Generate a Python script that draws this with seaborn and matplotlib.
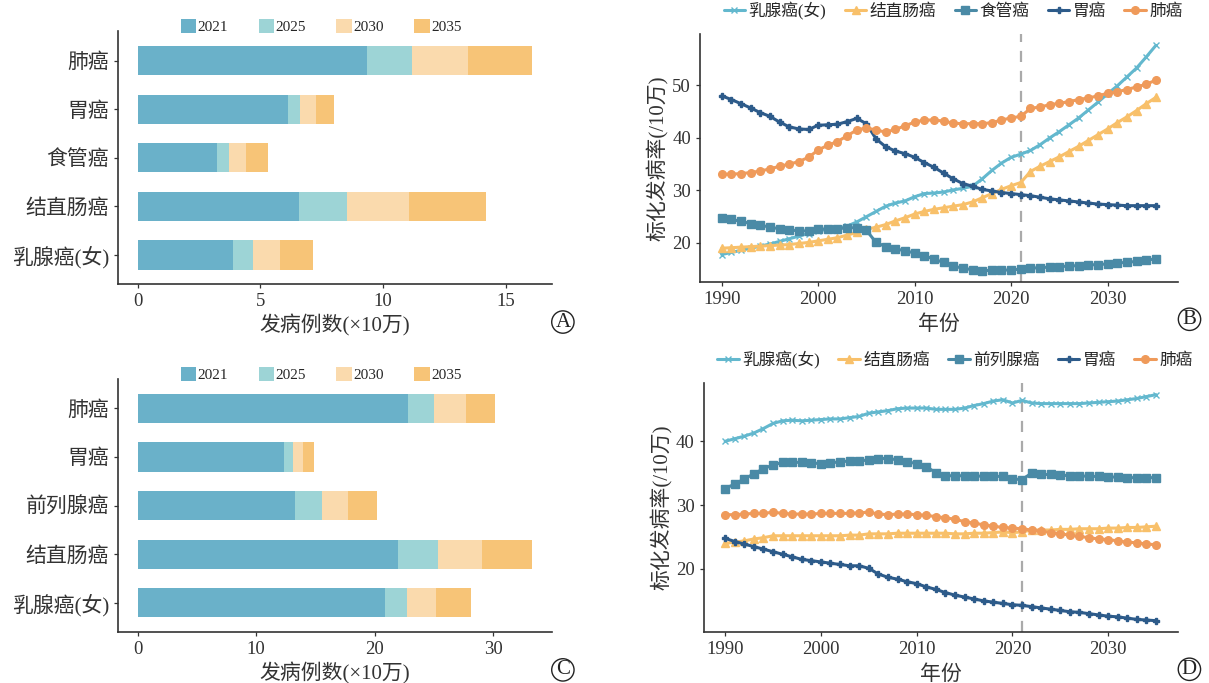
import numpy as np
import pandas as pd
import matplotlib
matplotlib.use("Agg")
import matplotlib.pyplot as plt
from matplotlib.patches import Patch
from matplotlib.lines import Line2D
import seaborn as sns

# -----------------------------------------------------------------
# Data: incidence counts (x10万) by year, panels A and C
# -----------------------------------------------------------------
bar_years = ["2021", "2025", "2030", "2035"]

cats_a = ["肺癌", "胃癌", "食管癌", "结直肠癌", "乳腺癌(女)"]
a_2021 = [9.35, 6.13, 3.22, 6.59, 3.88]
a_2025 = [11.2, 6.62, 3.72, 8.53, 4.71]
a_2030 = [13.47, 7.25, 4.41, 11.05, 5.82]
a_2035 = [16.09, 8.0, 5.31, 14.21, 7.14]

cats_c = ["肺癌", "胃癌", "前列腺癌", "结直肠癌", "乳腺癌(女)"]
c_2021 = [22.84, 12.37, 13.28, 21.96, 20.89]
c_2025 = [25.04, 13.12, 15.52, 25.3, 22.71]
c_2030 = [27.7, 13.99, 17.78, 29.09, 25.2]
c_2035 = [30.19, 14.9, 20.21, 33.3, 28.15]

# -----------------------------------------------------------------
# Data: age-standardised incidence (/10万), 1990-2035
# -----------------------------------------------------------------
years = list(range(1990, 2036))

b_breast = [17.8, 18.2, 18.6, 19.0, 19.4, 19.8, 20.3, 20.8, 21.3, 21.8,
            22.3, 22.6, 22.8, 23.2, 24.0, 25.0, 26.0, 27.0, 27.6, 28.0,
            28.8, 29.4, 29.5, 29.7, 30.1, 30.4, 30.8, 32.2, 33.8, 35.2,
            36.3, 36.9, 37.6, 38.7, 40.0, 41.2, 42.5, 43.8, 45.3, 46.8,
            48.4, 49.9, 51.6, 53.3, 55.4, 57.6]
b_colorectal = [19.0, 19.1, 19.2, 19.3, 19.4, 19.5, 19.6, 19.7, 19.9, 20.1,
                20.4, 20.7, 21.0, 21.5, 22.0, 22.6, 23.0, 23.5, 24.2, 24.8,
                25.5, 26.0, 26.4, 26.7, 27.0, 27.3, 27.8, 28.6, 29.4, 30.2,
                30.9, 31.5, 33.6, 34.6, 35.5, 36.4, 37.4, 38.4, 39.5, 40.6,
                41.7, 42.9, 44.0, 45.2, 46.5, 47.7]
b_esophagus = [24.8, 24.5, 24.1, 23.7, 23.4, 23.0, 22.7, 22.5, 22.3, 22.3,
               22.6, 22.7, 22.7, 22.9, 22.9, 22.4, 20.1, 19.3, 18.9, 18.5,
               18.1, 17.6, 16.9, 16.3, 15.6, 15.2, 14.9, 14.7, 14.8, 14.8,
               14.9, 15.0, 15.2, 15.3, 15.4, 15.5, 15.6, 15.7, 15.8, 15.9,
               16.0, 16.2, 16.3, 16.5, 16.7, 17.0]
b_stomach = [48.0, 47.3, 46.5, 45.7, 44.8, 44.1, 43.0, 42.1, 41.7, 41.6,
             42.4, 42.5, 42.6, 43.1, 43.7, 42.7, 39.8, 38.3, 37.5, 37.0,
             36.3, 35.3, 34.4, 33.3, 32.2, 31.3, 30.8, 30.2, 29.9, 29.6,
             29.4, 29.2, 29.0, 28.7, 28.4, 28.2, 28.0, 27.8, 27.6, 27.4,
             27.3, 27.2, 27.1, 27.1, 27.1, 27.1]
b_lung = [33.1, 33.1, 33.2, 33.4, 33.7, 34.1, 34.6, 35.0, 35.5, 36.3,
          37.7, 38.6, 39.3, 40.4, 41.5, 41.9, 41.5, 41.1, 41.6, 42.3,
          43.0, 43.4, 43.4, 43.2, 42.8, 42.7, 42.7, 42.7, 42.9, 43.4,
          43.8, 44.1, 45.6, 45.9, 46.3, 46.6, 46.9, 47.3, 47.6, 48.0,
          48.5, 48.8, 49.2, 49.7, 50.2, 51.0]

d_breast = [40.0, 40.4, 40.8, 41.3, 42.0, 42.8, 43.2, 43.3, 43.2, 43.3,
            43.4, 43.5, 43.5, 43.7, 43.9, 44.4, 44.6, 44.8, 45.1, 45.2,
            45.2, 45.2, 45.0, 45.0, 45.0, 45.2, 45.6, 45.9, 46.3, 46.5,
            46.0, 46.4, 46.0, 45.9, 45.9, 45.9, 45.9, 45.9, 46.0, 46.1,
            46.2, 46.3, 46.5, 46.7, 47.0, 47.3]
d_colorectal = [24.0, 24.2, 24.4, 24.7, 24.9, 25.2, 25.2, 25.2, 25.2, 25.2,
                25.2, 25.2, 25.2, 25.3, 25.3, 25.5, 25.5, 25.5, 25.6, 25.6,
                25.6, 25.6, 25.6, 25.6, 25.5, 25.5, 25.6, 25.6, 25.7, 25.8,
                25.7, 25.8, 26.1, 26.1, 26.1, 26.2, 26.2, 26.3, 26.3, 26.3,
                26.4, 26.4, 26.5, 26.5, 26.6, 26.7]
d_prostate = [32.6, 33.3, 34.1, 34.9, 35.7, 36.3, 36.7, 36.7, 36.7, 36.6,
              36.5, 36.6, 36.8, 36.9, 36.9, 37.1, 37.3, 37.3, 37.1, 36.8,
              36.5, 36.0, 35.1, 34.6, 34.6, 34.6, 34.6, 34.5, 34.5, 34.5,
              34.1, 34.0, 35.0, 34.8, 34.8, 34.7, 34.6, 34.6, 34.5, 34.5,
              34.4, 34.4, 34.3, 34.3, 34.3, 34.3]
d_stomach = [24.8, 24.3, 23.9, 23.5, 23.1, 22.7, 22.3, 21.9, 21.5, 21.3,
             21.1, 20.9, 20.7, 20.5, 20.5, 20.1, 19.2, 18.7, 18.4, 18.0,
             17.7, 17.2, 16.8, 16.3, 15.9, 15.6, 15.3, 15.0, 14.8, 14.6,
             14.4, 14.3, 14.1, 13.9, 13.7, 13.5, 13.3, 13.2, 13.0, 12.8,
             12.6, 12.5, 12.3, 12.1, 12.0, 11.9]
d_lung = [28.5, 28.5, 28.6, 28.7, 28.7, 28.9, 28.7, 28.6, 28.6, 28.6,
          28.7, 28.7, 28.7, 28.7, 28.8, 28.9, 28.6, 28.5, 28.6, 28.6,
          28.5, 28.4, 28.2, 28.0, 27.8, 27.4, 27.2, 26.9, 26.7, 26.5,
          26.4, 26.3, 26.1, 25.9, 25.7, 25.5, 25.3, 25.1, 24.9, 24.7,
          24.6, 24.4, 24.2, 24.1, 23.9, 23.8]

names_b = ["乳腺癌(女)", "结直肠癌", "食管癌", "胃癌", "肺癌"]
names_d = ["乳腺癌(女)", "结直肠癌", "前列腺癌", "胃癌", "肺癌"]

# -----------------------------------------------------------------
# Style
# -----------------------------------------------------------------
sns.set_theme(style="white")
plt.rcParams["font.family"] = ["Liberation Serif", "Noto Sans CJK SC", "DejaVu Sans"]

bar_colors = ["#6AB1C9", "#9DD4D6", "#FADAAD", "#F7C477"]
line_colors = ["#63B8CE", "#F8C06A", "#4A8AA6", "#2D5B8A", "#EF9A5A"]
line_markers = ["x", "^", "s", "P", "o"]
marker_sizes = [5, 6, 6, 4.5, 5.5]
axis_color = "#333333"

fig = plt.figure(figsize=(12.09, 6.83), dpi=100)
ax_a = fig.add_axes([0.0976, 0.584, 0.359, 0.370])
ax_c = fig.add_axes([0.0976, 0.0747, 0.359, 0.370])
ax_b = fig.add_axes([0.579, 0.587, 0.395, 0.363])
ax_d = fig.add_axes([0.582, 0.0747, 0.392, 0.364])


def style_axes(ax):
    sns.despine(ax=ax)
    for side in ["left", "bottom"]:
        ax.spines[side].set_color(axis_color)
        ax.spines[side].set_linewidth(1.2)
    ax.tick_params(axis="both", which="both", length=3, width=0.9,
                   color=axis_color, colors="#333333", direction="out",
                   bottom=True, left=True)


def panel_letter(ax, x, letter):
    # circled panel letter: letter as text, circle from the text bbox
    ax.text(x, -0.15, letter, transform=ax.transAxes, fontsize=15,
            ha="center", va="center", color="#222222",
            bbox=dict(boxstyle="circle,pad=0.08", fc="none",
                      ec="#222222", lw=1.0))


def bar_panel(ax, cats, vals_by_year, xmax, xticks, letter):
    df = pd.DataFrame({"cat": cats})
    # draw latest year first so earlier years sit on top
    for year, vals, col in reversed(list(zip(bar_years, vals_by_year, bar_colors))):
        sub = df.assign(val=vals)
        sns.barplot(data=sub, x="val", y="cat", order=cats, color=col,
                    orient="h", width=0.6, ax=ax, saturation=1,
                    edgecolor="none", linewidth=0, errorbar=None)
    ax.set_ylim(len(cats) - 0.4, -0.6)
    ax.set_xlim(-0.05 * xmax, 1.05 * xmax)
    ax.set_xticks(xticks)
    ax.set_xticklabels([str(t) for t in xticks], fontsize=13.5)
    ax.set_yticks(range(len(cats)))
    ax.set_yticklabels(cats, fontsize=15)
    ax.set_ylabel("")
    ax.set_xlabel("发病例数(×10万)", fontsize=15, color="#333333", labelpad=3)
    style_axes(ax)
    handles = [Patch(facecolor=c, edgecolor="none", label=y)
               for y, c in zip(bar_years, bar_colors)]
    ax.legend(handles=handles, loc="lower center", bbox_to_anchor=(0.468, 0.965),
              ncol=4, frameon=False, fontsize=11, handlelength=1.0,
              handleheight=1.0, handletextpad=0.1, columnspacing=2.0,
              borderaxespad=0)
    panel_letter(ax, 1.025, letter)


def line_panel(ax, series, names, yticks, letter, legend_x):
    df = pd.DataFrame({"year": years})
    for vals, name, col, mk, ms in zip(series, names, line_colors,
                                        line_markers, marker_sizes):
        sub = df.assign(rate=vals)
        sns.lineplot(data=sub, x="year", y="rate", color=col, marker=mk,
                     markersize=ms, markeredgecolor=col, markeredgewidth=1.0,
                     linewidth=2.2, ax=ax, label=name)
    ax.axvline(2021, color="#AAAAAA", linestyle=(0, (5, 4)), linewidth=1.6,
               zorder=0)
    allv = np.concatenate([np.asarray(s) for s in series])
    lo, hi = allv.min(), allv.max()
    pad = 0.05 * (hi - lo)
    ax.set_ylim(lo - pad, hi + pad)
    ax.set_xlim(1990 - 2.25, 2035 + 2.25)
    ax.set_xticks([1990, 2000, 2010, 2020, 2030])
    ax.set_xticklabels(["1990", "2000", "2010", "2020", "2030"], fontsize=13.5)
    ax.set_yticks(yticks)
    ax.set_yticklabels([str(t) for t in yticks], fontsize=13.5)
    ax.set_xlabel("年份", fontsize=15, color="#333333", labelpad=5)
    ax.set_ylabel("标化发病率(/10万)", fontsize=15, color="#333333", labelpad=2)
    style_axes(ax)
    handles = [Line2D([0], [0], color=c, marker=m, markersize=s,
                      markeredgecolor=c, linewidth=2.2, label=n)
               for c, m, s, n in zip(line_colors, line_markers, marker_sizes, names)]
    ax.legend(handles=handles, loc="lower center", bbox_to_anchor=(legend_x, 1.03),
              ncol=5, frameon=False, fontsize=12, handlelength=1.3,
              handletextpad=0.2, columnspacing=1.1, borderaxespad=0)
    panel_letter(ax, 1.025, letter)


bar_panel(ax_a, cats_a, [a_2021, a_2025, a_2030, a_2035], 16.09, [0, 5, 10, 15], "A")
bar_panel(ax_c, cats_c, [c_2021, c_2025, c_2030, c_2035], 33.3, [0, 10, 20, 30], "C")
line_panel(ax_b, [b_breast, b_colorectal, b_esophagus, b_stomach, b_lung],
           names_b, [20, 30, 40, 50], "B", 0.53)
line_panel(ax_d, [d_breast, d_colorectal, d_prostate, d_stomach, d_lung],
           names_d, [20, 30, 40], "D", 0.53)

fig.savefig("out.png", dpi=100)
